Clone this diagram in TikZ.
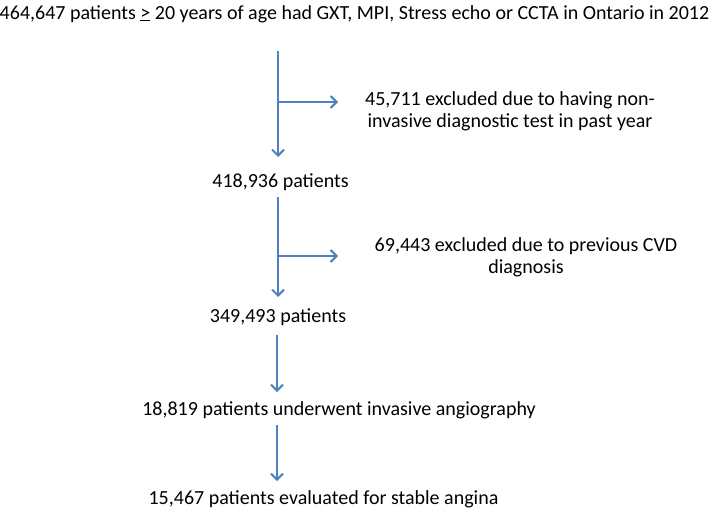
\documentclass[tikz,border=0pt]{standalone}
\usepackage{fontspec}
\setmainfont{Carlito}
\usetikzlibrary{arrows.meta}
\definecolor{arrowblue}{RGB}{79,129,189}
\tikzset{
  lbl/.style={inner sep=0pt, font=\fontsize{20}{22}\selectfont, align=center},
  flow/.style={draw=arrowblue, line width=2pt, -{Straight Barb[length=6pt,width=12pt,line width=2pt]}},
}
\begin{document}
\begin{tikzpicture}[x=1pt,y=-1pt]
\useasboundingbox (0,0) rectangle (709,511);
\node[lbl] (top) at (354.5,14) {464,647 patients \underline{>} 20 years of age had GXT, MPI, Stress echo or CCTA in Ontario in 2012};
\node[lbl] (ex1) at (510,111) {45,711 excluded due to having non-\\invasive diagnostic test in past year};
\node[lbl] (p1) at (280.5,182) {418,936 patients};
\node[lbl] (ex2) at (526,257) {69,443 excluded due to previous CVD\\diagnosis};
\node[lbl] (p2) at (278,317) {349,493 patients};
\node[lbl] (p3) at (339,410) {18,819 patients underwent invasive angiography};
\node[lbl] (p4) at (323.5,499) {15,467 patients evaluated for stable angina};
\coordinate (a1s) at (278,51);
\coordinate (a1e) at (278,157);
\coordinate (b1s) at (278,102);
\coordinate (b1e) at (338,102);
\coordinate (a2s) at (278,197);
\coordinate (a2e) at (278,297);
\coordinate (b2s) at (278,256);
\coordinate (b2e) at (338,256);
\coordinate (a3s) at (277,335);
\coordinate (a3e) at (277,392);
\coordinate (a4s) at (277,425);
\coordinate (a4e) at (277,481);
\draw[flow] (a1s) -- (a1e);
\draw[flow] (b1s) -- (b1e);
\draw[flow] (a2s) -- (a2e);
\draw[flow] (b2s) -- (b2e);
\draw[flow] (a3s) -- (a3e);
\draw[flow] (a4s) -- (a4e);
\end{tikzpicture}
\end{document}
